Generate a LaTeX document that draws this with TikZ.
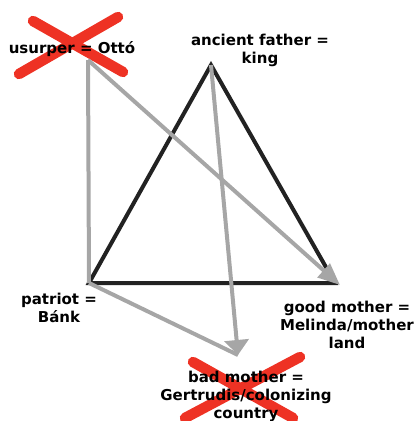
\documentclass[tikz,border=0pt]{standalone}
\usepackage{fontspec}
\setmainfont{DejaVu Sans}
\usetikzlibrary{arrows.meta}
\definecolor{xred}{HTML}{EE3224}
\definecolor{lgray}{HTML}{A6A6A6}
\definecolor{dark}{HTML}{222222}
\tikzset{
  tri/.style={draw=dark, line width=4pt, line join=miter},
  link/.style={draw=lgray, line width=4pt},
  arrlong/.style={link, -{Triangle[length=22pt,width=18pt]}},
  arrwide/.style={link, -{Triangle[length=15pt,width=24pt]}},
  cross/.style={draw=xred, line width=10.5pt, line cap=round},
  lbl/.style={font=\bfseries\fontsize{15}{18}\selectfont, align=center, inner sep=0pt, anchor=north, text=black}
}
\begin{document}
\begin{tikzpicture}[x=1pt,y=-1pt]
\useasboundingbox (0,0) rectangle (415,421);
\clip (0,0) rectangle (415,421);
% points
\coordinate (U) at (88,60);
\coordinate (A) at (211,65);
\coordinate (P) at (89,283);
\coordinate (G) at (335,283);
\coordinate (Gt) at (340,285);
\coordinate (B) at (238,355);
% red crosses
\coordinate (x1a) at (33,21);
\coordinate (x1b) at (123,72);
\coordinate (x1c) at (118,17);
\coordinate (x1d) at (19,74);
\coordinate (x2a) at (193,362);
\coordinate (x2b) at (293,418);
\coordinate (x2c) at (300,357);
\coordinate (x2d) at (185,418);
\draw[cross] (x1a) -- (x1b);
\draw[cross] (x1c) -- (x1d);
\draw[cross] (x2a) -- (x2b);
\draw[cross] (x2c) -- (x2d);
% triangle
\draw[tri] (A) -- (P) -- (G) -- cycle;
% gray connectors
\draw[link] (U) -- (P);
\draw[link] (P) -- (B);
\draw[arrlong] (U) -- (Gt);
\draw[arrwide] (A) -- (B);
% labels
\node[lbl, anchor=base] (usurper) at (72,53) {usurper = Ottó};
\node[lbl] (father) at (260,34) {ancient father =\\king};
\node[lbl] (patriot) at (59,293) {patriot =\\Bánk};
\node[lbl] (good) at (347,301) {good mother =\\Melinda/mother\\land};
\node[lbl] (bad) at (246,371) {bad mother =\\Gertrudis/colonizing\\country};
\end{tikzpicture}
\end{document}
